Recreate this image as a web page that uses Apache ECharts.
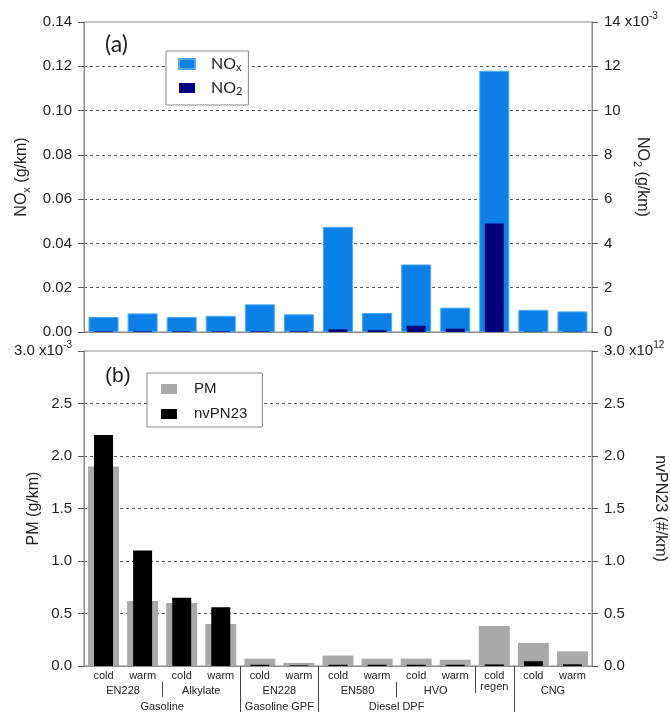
<!DOCTYPE html>
<html>
<head>
<meta charset="utf-8">
<script src="https://cdn.jsdelivr.net/npm/echarts@6/dist/echarts.min.js"></script>
<style>
html,body{margin:0;padding:0;background:#fff;}
#chart{width:670px;height:712px;}
</style>
</head>
<body>
<div id="chart"></div>
<script>
// test runs, one bar slot each
var runs = ['cold','warm','cold','warm','cold','warm','cold','warm','cold','warm','cold\nregen','cold','warm'];
// NOx and NO2, g/km
var nox = [0.0068, 0.0084, 0.0068, 0.0073, 0.0125, 0.0080, 0.0475, 0.0086, 0.0305, 0.0110, 0.1180, 0.0100, 0.0093];
var no2 = [0.00003, 0.00003, 0.00003, 0.00003, 0.00003, 0.00003, 0.00012, 0.00008, 0.00028, 0.00015, 0.0049, 0.00002, 0.00002];
// PM g/km, nvPN23 #/km
var pm = [0.00190, 0.00062, 0.00060, 0.00040, 0.00007, 0.00003, 0.00010, 0.00007, 0.00007, 0.00006, 0.00038, 0.00022, 0.00014];
var pn = [2.20e12, 1.10e12, 0.65e12, 0.56e12, 0.012e12, 0.006e12, 0.012e12, 0.012e12, 0.012e12, 0.012e12, 0.015e12, 0.045e12, 0.016e12];
// group labels: [text, first run, last run]
var fuels = [['EN228',0,1],['Alkylate',2,3],['EN228',4,5],['EN580',6,7],['HVO',8,9],['CNG',11,12]];
var techs = [['Gasoline',0,3],['Gasoline GPF',4,5],['Diesel DPF',6,9]];
// separators, given as the run index they stand before
var sepShort = [2, 8];
var sepMid = [10];
var sepLong = [4, 6, 11];

var font = 'Liberation Sans, Arial, sans-serif';
var txt = '#222';
var axisCol = '#8a8a8a';

// half-step axis: position j sits at run value (j-1)/2 ... covers boundaries and centres
var nHalf = runs.length * 2 + 1;
var halfIdx = [];
for (var j = 0; j < nHalf; j++) halfIdx.push('' + j);
function halfLabels(groups) {
  var a = [];
  for (var j = 0; j < nHalf; j++) a.push('');
  groups.forEach(function (g) { a[g[1] + g[2] + 1] = g[0]; });
  return a;
}
var fuelRow = halfLabels(fuels);
var techRow = halfLabels(techs);
function sepTest(list) {
  return function (i) { return list.indexOf(i / 2) >= 0; };
}

var sup = {
  t: {fontSize: 15, fontFamily: font, color: txt, lineHeight: 22},
  s: {fontSize: 10, fontFamily: font, color: txt, lineHeight: 10, verticalAlign: 'top'}
};
var nameStyle = {
  fontSize: 16, fontFamily: font, color: txt, lineHeight: 20,
  rich: {s: {fontSize: 11, fontFamily: font, color: txt, lineHeight: 11, verticalAlign: 'bottom'}}
};

function xBase(grid, extra) {
  var o = {
    type: 'category', gridIndex: grid, position: 'bottom', data: runs,
    axisLine: {lineStyle: {color: axisCol}},
    axisTick: {alignWithLabel: false, length: 5, lineStyle: {color: '#555'}},
    axisLabel: {show: false},
    splitLine: {show: false}
  };
  for (var k in extra) o[k] = extra[k];
  return o;
}
function halfAxis(labels, ticks, tickLen, offset, margin) {
  return {
    type: 'category', gridIndex: 1, position: 'bottom', boundaryGap: false,
    data: halfIdx, offset: offset,
    axisLine: {show: false},
    axisTick: {show: true, interval: sepTest(ticks), length: tickLen, lineStyle: {color: '#444'}},
    axisLabel: {
      show: !!labels, interval: 0, margin: margin, fontSize: 11, color: txt, fontFamily: font,
      formatter: function (v, i) { return labels ? labels[i] : ''; }
    },
    splitLine: {show: false}
  };
}
function yBase(grid, pos, max, step, fmt, extra) {
  var o = {
    type: 'value', gridIndex: grid, position: pos, min: 0, max: max, interval: step,
    axisLine: {show: true, lineStyle: {color: axisCol}},
    axisTick: {show: true, length: 6, lineStyle: {color: '#555'}},
    axisLabel: {fontSize: 15, color: txt, fontFamily: font, margin: 12, formatter: fmt, rich: sup},
    splitLine: {show: false},
    nameLocation: 'middle', nameMoveOverlap: false, nameTextStyle: nameStyle
  };
  for (var k in extra) o[k] = extra[k];
  return o;
}
var dashed = {show: true, showMinLine: false, showMaxLine: false, lineStyle: {color: '#555', type: [3, 3], width: 1}};

var option = {
  animation: false,
  backgroundColor: '#fff',
  textStyle: {fontFamily: font},
  title: [
    {text: '(a)', left: 105, top: 33, padding: 0, textStyle: {fontSize: 23, fontWeight: 'normal', color: txt, fontFamily: 'Lato, sans-serif'}},
    {text: '(b)', left: 105, top: 366, padding: 0, textStyle: {fontSize: 21, fontWeight: 'normal', color: txt, fontFamily: font}}
  ],
  legend: [
    {
      data: ['NOx', 'NO2'], orient: 'vertical', left: 166, top: 51, icon: 'rect',
      padding: [5, 6, 8, 12], itemWidth: 16, itemHeight: 10, itemGap: 7,
      borderColor: '#888', borderWidth: 1, borderRadius: 0, backgroundColor: '#fff',
      formatter: function (n) { return n === 'NOx' ? '{m|NO}{s|x}' : '{m|NO}{s|2}'; },
      textStyle: {padding: [0, 0, 0, 11], rich: {
        m: {fontSize: 16, fontFamily: 'Lato, sans-serif', color: txt, lineHeight: 18},
        s: {fontSize: 11, fontFamily: 'Lato, sans-serif', color: txt, lineHeight: 11, verticalAlign: 'bottom'}
      }}
    },
    {
      data: ['PM', 'nvPN23'], orient: 'vertical', left: 147, top: 373, icon: 'rect',
      padding: [7, 15, 4, 14], itemWidth: 16, itemHeight: 10, itemGap: 7,
      borderColor: '#888', borderWidth: 1, borderRadius: 0, backgroundColor: '#fff',
      textStyle: {fontSize: 15, color: txt, fontFamily: font, lineHeight: 18, padding: [0, 0, 0, 12]}
    }
  ],
  grid: [
    {left: 84, right: 78, top: 22, height: 310, show: true, borderColor: axisCol, borderWidth: 1, outerBoundsMode: 'none'},
    {left: 84, right: 78, top: 351, height: 315, show: true, borderColor: axisCol, borderWidth: 1, outerBoundsMode: 'none'}
  ],
  xAxis: [
    xBase(0, {}),
    xBase(0, {show: false}),
    xBase(1, {axisTick: {alignWithLabel: false, length: 6, lineStyle: {color: '#555'}},
      axisLabel: {show: true, interval: 0, margin: 4, fontSize: 11, lineHeight: 11, color: txt, fontFamily: font}}),
    xBase(1, {show: false}),
    halfAxis(fuelRow, sepShort, 15, 16, 3),
    halfAxis(techRow, sepLong, 46, 0, 35),
    halfAxis(null, sepMid, 27, 0, 0)
  ],
  yAxis: [
    yBase(0, 'left', 0.14, 0.02, function (v) { return v.toFixed(2); }, {
      splitLine: dashed, name: 'NO{s|x} (g/km)', nameGap: 52
    }),
    yBase(0, 'right', 0.014, 0.002, function (v) {
      var n = Math.round(v * 1000);
      return n === 14 ? '{t|14 x10}{s|-3}' : '' + n;
    }, {name: 'NO{s|2} (g/km)', nameGap: 40, nameRotate: -90}),
    yBase(1, 'left', 0.003, 0.0005, function (v) {
      var n = (v * 1000).toFixed(1);
      return n === '3.0' ? '{t|3.0 x10}{s|-3}' : n;
    }, {splitLine: dashed, name: 'PM (g/km)', nameGap: 40}),
    yBase(1, 'right', 3e12, 0.5e12, function (v) {
      var n = (v / 1e12).toFixed(1);
      return n === '3.0' ? '{t|3.0 x10}{s|12}' : n;
    }, {name: 'nvPN23 (#/km)', nameGap: 58, nameRotate: -90})
  ],
  series: [
    {name: 'NOx', type: 'bar', xAxisIndex: 0, yAxisIndex: 0, data: nox, barWidth: 30, z: 2,
      itemStyle: {color: '#0b80e8', borderColor: '#49aaf2', borderWidth: 1}},
    {name: 'NO2', type: 'bar', xAxisIndex: 1, yAxisIndex: 1, data: no2, barWidth: 19, z: 3,
      itemStyle: {color: '#00007f'}},
    {name: 'PM', type: 'bar', xAxisIndex: 2, yAxisIndex: 2, data: pm, barWidth: 31, z: 2,
      itemStyle: {color: '#a9a9a9'}},
    {name: 'nvPN23', type: 'bar', xAxisIndex: 3, yAxisIndex: 3, data: pn, barWidth: 19, z: 3,
      itemStyle: {color: '#000'}}
  ]
};

var chart = echarts.init(document.getElementById('chart'));
chart.setOption(option);
</script>
</body>
</html>
